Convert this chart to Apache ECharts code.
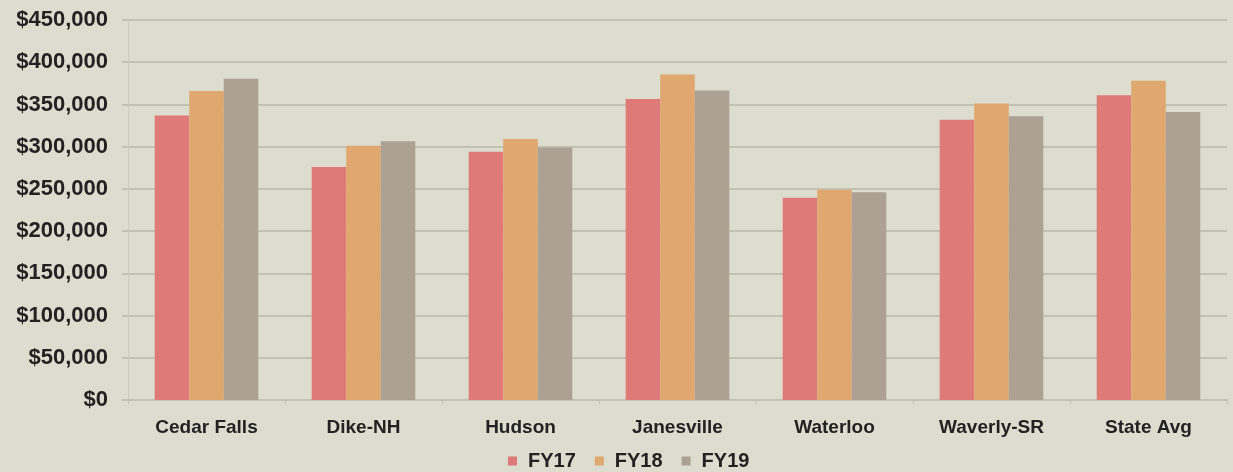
<!DOCTYPE html>
<html>
<head>
<meta charset="utf-8">
<script src="https://cdn.jsdelivr.net/npm/echarts@6/dist/echarts.min.js"></script>
<style>
  html, body { margin: 0; padding: 0; background: #dcdccf; }
</style>
</head>
<body>
<div id="chart" style="width:1233px;height:472px;"></div>
<script>
  var categories = ['Cedar Falls', 'Dike-NH', 'Hudson', 'Janesville', 'Waterloo', 'Waverly-SR', 'State Avg'];
  var fy17 = [337000, 276000, 294000, 356500, 239500, 332000, 361000];
  var fy18 = [366000, 301000, 309000, 385500, 249000, 351000, 378000];
  var fy19 = [380500, 306500, 299000, 366500, 246000, 336000, 341000];
  var seriesNames = ['FY17', 'FY18', 'FY19'];
  var colors = ['#e07a79', '#e0a76e', '#ada194'];

  var labelFont = 'Liberation Sans, Arial, sans-serif';

  function money(v) {
    return '$' + v.toString().replace(/\B(?=(\d{3})+(?!\d))/g, ',');
  }

  var chart = echarts.init(document.getElementById('chart'));
  var option = {
    backgroundColor: '#dcdccf',
    animation: false,
    color: colors,
    grid: { left: 128, right: 6, top: 20, bottom: 72 },
    legend: {
      data: seriesNames,
      top: 446,
      left: 503,
      icon: 'rect',
      itemWidth: 9,
      itemHeight: 9,
      itemGap: 19,
      textStyle: { color: '#222', fontSize: 20, fontWeight: 'bold', fontFamily: labelFont, padding: [0, 0, 0, 6] }
    },
    xAxis: {
      type: 'category',
      data: categories,
      axisLine: { lineStyle: { color: '#c2c2b4', width: 2 } },
      axisTick: { show: true, length: 4, lineStyle: { color: '#c2c2b4' } },
      axisLabel: { color: '#222', fontSize: 19, fontWeight: 'bold', fontFamily: labelFont, margin: 18 }
    },
    yAxis: {
      type: 'value',
      min: 0,
      max: 450000,
      interval: 50000,
      axisLine: { show: true, lineStyle: { color: '#cacabd', width: 1 } },
      axisTick: { show: true, length: 6, lineStyle: { color: '#c2c2b4', width: 2 } },
      splitLine: { lineStyle: { color: '#c2c2b4', width: 2 } },
      axisLabel: { color: '#222', fontSize: 22, fontWeight: 'bold', fontFamily: labelFont, margin: 20, formatter: money }
    },
    series: [
      { name: seriesNames[0], type: 'bar', data: fy17, barGap: '0%', barCategoryGap: '34%' },
      { name: seriesNames[1], type: 'bar', data: fy18, barGap: '0%', barCategoryGap: '34%' },
      { name: seriesNames[2], type: 'bar', data: fy19, barGap: '0%', barCategoryGap: '34%' }
    ]
  };
  chart.setOption(option);
</script>
</body>
</html>
